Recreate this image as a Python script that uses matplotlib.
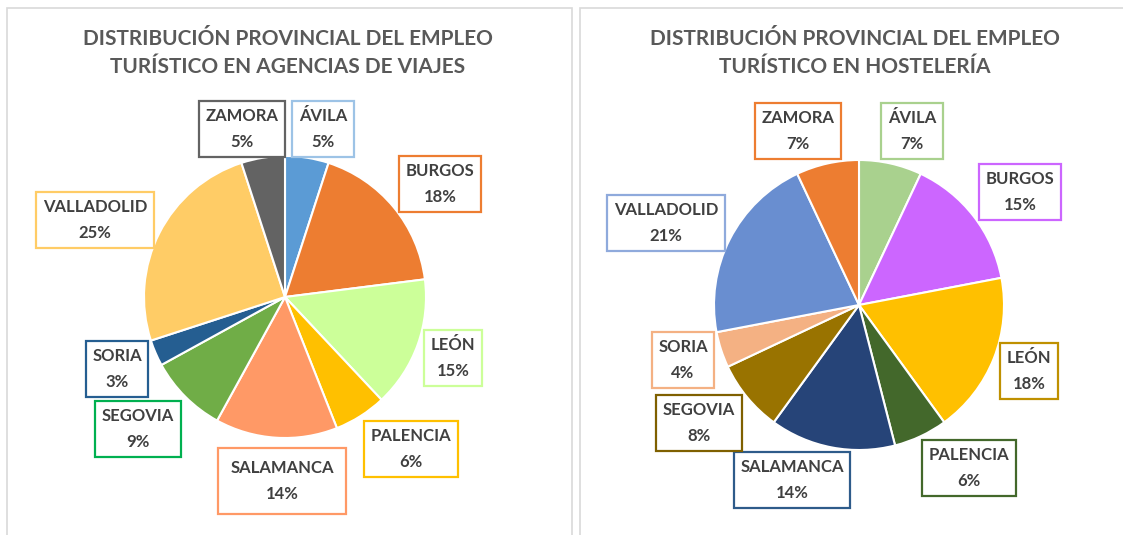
import matplotlib.pyplot as plt
from matplotlib.patches import Rectangle

plt.rcParams['font.family'] = ['Lato', 'DejaVu Sans']

W, H = 1123, 535

provinces = ['ÁVILA', 'BURGOS', 'LEÓN', 'PALENCIA', 'SALAMANCA',
             'SEGOVIA', 'SORIA', 'VALLADOLID', 'ZAMORA']
agencias = [5, 18, 15, 6, 14, 9, 3, 25, 5]
hosteleria = [7, 15, 18, 6, 14, 8, 4, 21, 7]

title_agencias = 'DISTRIBUCIÓN PROVINCIAL DEL EMPLEO\nTURÍSTICO EN AGENCIAS DE VIAJES'
title_hosteleria = 'DISTRIBUCIÓN PROVINCIAL DEL EMPLEO\nTURÍSTICO EN HOSTELERÍA'

# styles
fill_agencias = ['#5B9BD5', '#ED7D31', '#CCFF99', '#FFC000', '#FF9966',
                 '#70AD47', '#255E91', '#FFCC66', '#636363']
edge_agencias = ['#9DC3E6', '#ED7D31', '#CCFF99', '#FFC000', '#FF9966',
                 '#00B050', '#255E91', '#FFCC66', '#636363']
fill_hosteleria = ['#A9D18E', '#CC66FF', '#FFC000', '#43682B', '#264478',
                   '#997300', '#F4B183', '#698ED0', '#ED7D31']
edge_hosteleria = ['#A9D18E', '#CC66FF', '#BF9000', '#43682B', '#2E5B8A',
                   '#7F6000', '#F4B183', '#8FAADC', '#ED7D31']

# layout (pixel coordinates, y from top)
pos_agencias = [(323, 129), (440, 184), (453, 358), (411, 449), (282, 481),
                (138, 429), (117, 369), (95, 220), (242, 129)]
pos_hosteleria = [(912, 131), (1020, 192), (1029, 371), (969, 468), (792, 480),
                  (699, 423), (683, 360), (666, 223), (798, 131)]
pad_agencias = [0.4, 0.4, 0.4, 0.4, 0.75, 0.4, 0.4, 0.4, 0.4]
pad_hosteleria = [0.4, 0.4, 0.4, 0.4, 0.4, 0.4, 0.4, 0.4, 0.4]

fig = plt.figure(figsize=(W / 100, H / 100), dpi=100)
ax = fig.add_axes([0, 0, 1, 1])


def draw_panel(x0, x1, title, tx, values, fills, edges, center, radius,
               label_pos, pads):
    ax.add_patch(Rectangle((x0, -10), x1 - x0, H - 8 + 10, fill=False,
                           edgecolor='#D9D9D9', linewidth=1.2))
    ax.text(tx, H - 53, title, ha='center', va='center', fontsize=15,
            fontweight='bold', color='#595959', linespacing=1.45)
    ax.pie(values, colors=fills, startangle=90, counterclock=False,
           center=(center[0], H - center[1]), radius=radius, frame=True,
           wedgeprops=dict(edgecolor='white', linewidth=1.5))
    for name, v, ec, (lx, ly), pad in zip(provinces, values, edges, label_pos, pads):
        ax.text(lx, H - ly, f'{name}\n{v}%', ha='center', va='center',
                fontsize=12, fontweight='bold', color='#404040',
                linespacing=1.75,
                bbox=dict(boxstyle=f'square,pad={pad}', facecolor='white',
                          edgecolor=ec, linewidth=1.6))


draw_panel(7, 572, title_agencias, 288, agencias, fill_agencias, edge_agencias,
           (285, 297), 141, pos_agencias, pad_agencias)
draw_panel(580, 1130, title_hosteleria, 855, hosteleria, fill_hosteleria,
           edge_hosteleria, (859, 305), 145, pos_hosteleria, pad_hosteleria)

ax.set_xlim(0, W)
ax.set_ylim(0, H)
ax.set_aspect('equal')
ax.axis('off')

fig.savefig('out.png', dpi=100, facecolor='white')
